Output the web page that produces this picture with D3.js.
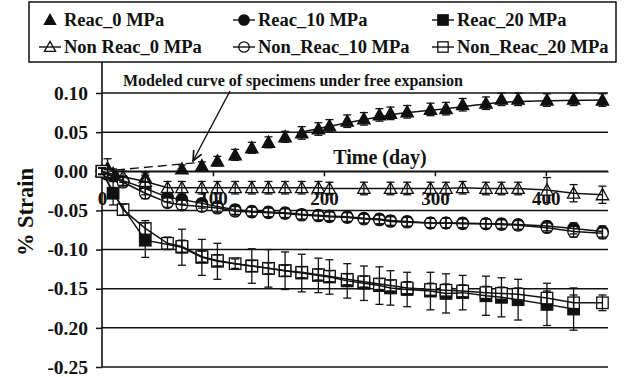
<!DOCTYPE html>
<html>
<head>
<meta charset="utf-8">
<script src="https://cdn.jsdelivr.net/npm/d3@7/dist/d3.min.js"></script>
<style>
  html, body { margin: 0; padding: 0; background: #fff; }
  svg { display: block; font-family: "Liberation Serif", "Times New Roman", serif; font-weight: bold; }
</style>
</head>
<body>
<svg id="chart" width="625" height="377"></svg>
<script>
// Measurement days (shared by all series; null where a series has no reading)
const days = [0, 5, 10, 19, 39, 59, 72, 90, 104, 120, 135, 150, 165, 180, 195, 205,
              221, 236, 250, 260, 275, 296, 310, 325, 346, 360, 375, 401, 425, 451];

// % strain per series
const reac0 = [0.000, 0.004, -0.003, null, -0.008, null, 0.003, 0.007, 0.013, 0.021, 0.030, 0.037, 0.044, 0.049, 0.054, 0.058,
               0.064, 0.067, 0.072, 0.074, 0.076, 0.079, 0.080, 0.085, 0.087, 0.092, 0.092, 0.091, 0.092, 0.091];
const reac10 = [0.000, -0.003, -0.006, -0.012, -0.022, -0.033, -0.036, -0.041, -0.045, -0.049, -0.051, -0.052, -0.053, -0.055, -0.056, -0.057,
                -0.058, -0.060, -0.061, -0.063, -0.064, -0.066, -0.066, -0.066, -0.067, -0.067, -0.068, -0.070, -0.073, -0.077];
const reac20 = [0.000, null, -0.028, null, -0.088, null, -0.097, -0.110, -0.115, null, -0.121, -0.124, -0.127, -0.130, -0.133, -0.135,
                -0.140, -0.143, -0.146, -0.149, -0.151, -0.153, -0.156, -0.155, -0.159, -0.161, -0.164, -0.170, -0.176, null];
const nonReac0 = [0.000, -0.002, null, -0.007, -0.013, -0.021, -0.021, -0.021, -0.021, -0.021, -0.021, -0.021, -0.021, -0.021, -0.021, -0.022,
                  null, -0.022, null, -0.022, -0.022, -0.022, -0.022, -0.021, -0.022, -0.022, -0.022, -0.024, -0.028, -0.030];
const nonReac10 = [0.000, -0.004, null, -0.014, -0.028, -0.040, -0.043, -0.045, -0.047, -0.051, -0.052, -0.053, -0.054, -0.056, -0.057, -0.058,
                   -0.059, -0.061, -0.062, -0.064, -0.065, -0.066, -0.066, -0.067, -0.067, -0.068, -0.069, -0.072, -0.077, -0.079];
const nonReac20 = [0.000, null, null, -0.049, -0.073, -0.092, -0.096, -0.109, -0.114, -0.118, -0.121, -0.124, -0.127, -0.129, -0.132, -0.134,
                   -0.138, -0.141, -0.144, -0.146, -0.149, -0.151, -0.152, -0.153, -0.155, -0.156, -0.157, -0.162, -0.168, -0.168];

// Error-bar half widths (% strain)
const reac0Err = [0.004, 0.012, 0.006, 0, 0.006, 0, 0.005, 0.005, 0.006, 0.007, 0.007, 0.007, 0.007, 0.008, 0.008, 0.008,
                  0.008, 0.008, 0.008, 0.008, 0.008, 0.008, 0.008, 0.008, 0.008, 0.008, 0.008, 0.008, 0.008, 0.008];
const reac10Err = [0.004, 0.006, 0.006, 0.006, 0.008, 0.006, 0.006, 0.006, 0.006, 0.006, 0.006, 0.006, 0.006, 0.006, 0.006, 0.006,
                   0.006, 0.006, 0.006, 0.006, 0.006, 0.006, 0.006, 0.006, 0.006, 0.006, 0.006, 0.006, 0.007, 0.007];
const reac20Err = [0.004, 0, 0.015, 0, 0.022, 0, 0.023, 0.023, 0.023, 0, 0.022, 0.024, 0.024, 0.024, 0.022, 0.022,
                   0.022, 0.022, 0.024, 0.022, 0.022, 0.024, 0.025, 0.022, 0.025, 0.025, 0.026, 0.027, 0.027, 0];
const nonReac0Err = [0.004, 0.006, 0, 0.007, 0.008, 0.008, 0.008, 0.008, 0.008, 0.008, 0.008, 0.008, 0.008, 0.008, 0.008, 0.008,
                     0, 0.008, 0, 0.008, 0.008, 0.008, 0.008, 0.008, 0.008, 0.008, 0.008, 0.016, 0.011, 0.011];
const nonReac10Err = [0.004, 0.006, 0, 0.006, 0.007, 0.006, 0.006, 0.006, 0.006, 0.006, 0.006, 0.006, 0.006, 0.006, 0.006, 0.006,
                      0.006, 0.006, 0.006, 0.006, 0.006, 0.006, 0.006, 0.006, 0.006, 0.006, 0.006, 0.006, 0.007, 0.007];
const nonReac20Err = [0.004, 0, 0, 0.007, 0.010, 0.008, 0.008, 0.007, 0.007, 0.006, 0.007, 0.007, 0.007, 0.007, 0.007, 0.007,
                      0.007, 0.007, 0.007, 0.007, 0.008, 0.008, 0.008, 0.008, 0.008, 0.008, 0.008, 0.009, 0.010, 0.010];

// Modeled free-expansion curve: dashed early part and solid later part
const modelDashDays = [0, 85];
const modelDashStrain = [0.000, 0.011];
const modelSolidDays = [180, 221, 260, 310, 360, 401, 451];
const modelSolidStrain = [0.050, 0.062, 0.072, 0.080, 0.088, 0.090, 0.091];

// Axis ticks
const yTicks = [-0.25, -0.20, -0.15, -0.10, -0.05, 0.00, 0.05, 0.10];
const yTickLabels = ["-0.25", "-0.20", "-0.15", "-0.10", "-0.05", "0.00", "0.05", "0.10"];
const xTicks = [0, 100, 200, 300, 400];
const xTickLabels = ["0", "100", "200", "300", "400"];

const seriesNames = ["Reac_0 MPa", "Reac_10 MPa", "Reac_20 MPa", "Non Reac_0 MPa", "Non_Reac_10 MPa", "Non_Reac_20 MPa"];

const series = [
  { name: seriesNames[0], values: reac0, err: reac0Err, shape: "triangle", filled: true, line: false },
  { name: seriesNames[1], values: reac10, err: reac10Err, shape: "circle", filled: true, line: true },
  { name: seriesNames[2], values: reac20, err: reac20Err, shape: "square", filled: true, line: true },
  { name: seriesNames[3], values: nonReac0, err: nonReac0Err, shape: "triangle", filled: false, line: true },
  { name: seriesNames[4], values: nonReac10, err: nonReac10Err, shape: "circle", filled: false, line: true },
  { name: seriesNames[5], values: nonReac20, err: nonReac20Err, shape: "square", filled: false, line: true }
];

const INK = "#111";
const FONT = "Liberation Serif, Times New Roman, serif";
const svg = d3.select("#chart");
const x = d3.scaleLinear().domain([0, 456]).range([102, 608]);
const y = d3.scaleLinear().domain([-0.25, 0.10]).range([367, 93]);

// Horizontal grid lines
svg.append("g").selectAll("line").data(yTicks).join("line")
  .attr("x1", x(0)).attr("x2", x(456))
  .attr("y1", d => y(d)).attr("y2", d => y(d))
  .attr("stroke", INK).attr("stroke-width", 1.5);

// Y axis (line runs up to the legend box)
const yAxis = svg.append("g").attr("transform", `translate(${x(0)},0)`)
  .call(d3.axisLeft(y).tickValues(yTicks).tickSize(6).tickSizeOuter(0)
        .tickFormat((d, i) => yTickLabels[i]).tickPadding(8));
yAxis.attr("font-family", FONT);
yAxis.select(".domain").remove();
yAxis.selectAll("line").attr("stroke", INK).attr("stroke-width", 1.5);
yAxis.selectAll("text").attr("font-size", 19.5).attr("font-weight", "bold").attr("fill", INK);
svg.append("line").attr("x1", x(0)).attr("x2", x(0)).attr("y1", 62).attr("y2", y(-0.25))
  .attr("stroke", INK).attr("stroke-width", 1.6);

// X axis along zero strain
const xAxis = svg.append("g").attr("transform", `translate(0,${y(0)})`)
  .call(d3.axisBottom(x).tickValues(xTicks).tickSize(5).tickSizeOuter(0)
        .tickFormat((d, i) => xTickLabels[i]).tickPadding(15));
xAxis.attr("font-family", FONT);
xAxis.select(".domain").attr("stroke", INK).attr("stroke-width", 1.5);
xAxis.selectAll("line").attr("stroke", INK).attr("stroke-width", 1.5);
xAxis.selectAll("text").attr("font-size", 19).attr("font-weight", "bold").attr("fill", INK);

// Axis titles
svg.append("text").attr("x", 380).attr("y", 164).attr("text-anchor", "middle")
  .attr("font-size", 20).attr("fill", INK).text("Time (day)");
svg.append("text").attr("transform", "translate(25,212) rotate(-90)").attr("text-anchor", "middle")
  .attr("dy", "0.35em").attr("font-size", 22.5).attr("fill", INK).text("% Strain");

// Modeled curve
const lineGen = d3.line().x(d => x(d[0])).y(d => y(d[1]));
svg.append("path").datum(modelDashDays.map((d, i) => [d, modelDashStrain[i]]))
  .attr("d", lineGen).attr("fill", "none").attr("stroke", INK)
  .attr("stroke-width", 1.4).attr("stroke-dasharray", "9,5");
svg.append("path").datum(modelSolidDays.map((d, i) => [d, modelSolidStrain[i]]))
  .attr("d", d3.line().curve(d3.curveMonotoneX).x(d => x(d[0])).y(d => y(d[1])))
  .attr("fill", "none").attr("stroke", INK).attr("stroke-width", 1.5);

// Marker drawing
function drawMarker(g, shape, filled, cx, cy, scale) {
  const k = scale || 1;
  const fill = filled ? INK : "#fff";
  let el;
  if (shape === "circle") {
    el = g.append("circle").attr("cx", cx).attr("cy", cy).attr("r", 5.8 * k);
  } else if (shape === "square") {
    const s = 11.5 * k;
    el = g.append("rect").attr("x", cx - s / 2).attr("y", cy - s / 2).attr("width", s).attr("height", s);
  } else {
    const h = 6.2 * k;
    el = g.append("path").attr("d", `M${cx},${cy - h}L${cx + h},${cy + h * 0.8}L${cx - h},${cy + h * 0.8}Z`);
  }
  el.attr("fill", fill).attr("stroke", INK).attr("stroke-width", 1.3);
}

const pts = s => days.map((d, i) => ({ d, v: s.values[i], e: s.err[i] })).filter(p => p.v !== null);

// Markers first, then connecting lines and error bars over them
series.forEach(s => {
  const g = svg.append("g");
  pts(s).forEach(p => drawMarker(g, s.shape, s.filled, x(p.d), y(p.v)));
});

series.filter(s => s.line).forEach(s => {
  svg.append("path").datum(pts(s).map(p => [p.d, p.v]))
    .attr("d", lineGen).attr("fill", "none").attr("stroke", INK).attr("stroke-width", 1.5);
});

series.forEach(s => {
  const g = svg.append("g").attr("stroke", INK).attr("stroke-width", 1.3);
  pts(s).filter(p => p.e > 0).forEach(p => {
    const cx = x(p.d), top = y(p.v + p.e), bot = y(p.v - p.e);
    g.append("line").attr("x1", cx).attr("x2", cx).attr("y1", top).attr("y2", bot);
    g.append("line").attr("x1", cx - 4).attr("x2", cx + 4).attr("y1", top).attr("y2", top);
    g.append("line").attr("x1", cx - 4).attr("x2", cx + 4).attr("y1", bot).attr("y2", bot);
  });
});

// Annotation with arrow
svg.append("defs").append("marker").attr("id", "arrowhead")
  .attr("viewBox", "0 0 10 10").attr("refX", 9).attr("refY", 5)
  .attr("markerWidth", 8).attr("markerHeight", 8).attr("orient", "auto")
  .append("path").attr("d", "M0,1L9,5L0,9").attr("fill", "none").attr("stroke", INK).attr("stroke-width", 1.5);
svg.append("text").attr("x", 123).attr("y", 86).attr("font-size", 16).attr("fill", INK)
  .text("Modeled curve of specimens under free expansion");
svg.append("line").attr("x1", 230).attr("y1", 91).attr("x2", 193).attr("y2", 161)
  .attr("stroke", INK).attr("stroke-width", 1.4).attr("marker-end", "url(#arrowhead)");

// Legend
const legend = svg.append("g");
legend.append("rect").attr("x", 29).attr("y", 2).attr("width", 587).attr("height", 60)
  .attr("fill", "#fff").attr("stroke", INK).attr("stroke-width", 1.5);
const colX = [50, 244, 443];
const rowY = [20, 47];
series.forEach((s, i) => {
  const cx = colX[i % 3], cy = rowY[Math.floor(i / 3)];
  drawMarker(legend, s.shape, s.filled, cx, cy, 0.9);
  if (s.line) {
    legend.append("line").attr("x1", cx - 11).attr("x2", cx + 11).attr("y1", cy).attr("y2", cy)
      .attr("stroke", INK).attr("stroke-width", 1.4);
  }
  legend.append("text").attr("x", cx + 14).attr("y", cy).attr("dy", "0.35em")
    .attr("font-size", 18.5).attr("fill", INK).text(s.name);
});
</script>
</body>
</html>
